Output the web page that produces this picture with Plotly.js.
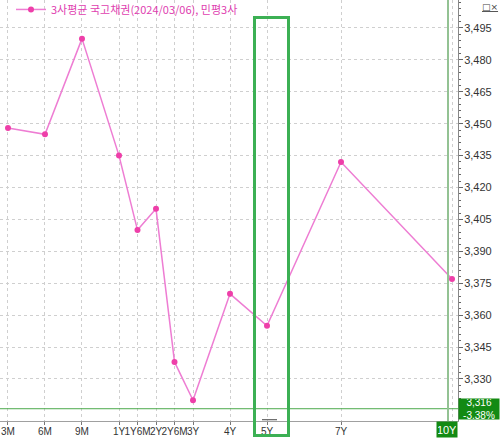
<!DOCTYPE html>
<html>
<head>
<meta charset="utf-8">
<script src="https://cdn.plot.ly/plotly-3.0.1.min.js"></script>
<style>
html,body{margin:0;padding:0;background:#fff;}
#chart{width:500px;height:440px;}
</style>
</head>
<body>
<div id="chart"></div>
<script>
// Tenor categories and their position on the chart's tenor scale
const tenors = ['3M','6M','9M','1Y','1Y6M','2Y','2Y6M','3Y','4Y','5Y','7Y','10Y'];
const tenorScale = [0, 1, 2, 3, 3.5, 4, 4.5, 5, 6, 7, 9, 12];
// Yields (3사평균 국고채권, 2024/03/06)
const yields = [3.448, 3.445, 3.490, 3.435, 3.400, 3.410, 3.338, 3.320, 3.370, 3.355, 3.432, 3.377];
const seriesName = '3사평균 국고채권(2024/03/06), 민평3사';
const lastValue = 3.316;
const lastLabel = '3,316<br>-3,38%';
const yTicks = [3.330, 3.345, 3.360, 3.375, 3.390, 3.405, 3.420, 3.435, 3.450, 3.465, 3.480, 3.495];

// the last tenor's label is shown in the highlighted box instead of the axis
const lastTenor = tenors[tenors.length - 1];
const axisTickText = tenors.map((t, i) => i === tenors.length - 1 ? '' : t);

const narrow = '"Liberation Sans Narrow", "Liberation Sans", Arial, sans-serif';
const tickFont = {family: narrow, size: 11, color: '#333'};

const trace = {
  x: tenorScale,
  y: yields,
  type: 'scatter',
  mode: 'lines+markers',
  name: seriesName,
  line: {color: '#ee7dd3', width: 1.5},
  marker: {color: '#ee3fa9', size: 6},
  hoverinfo: 'skip'
};

const layout = {
  width: 500, height: 440,
  margin: {l: 0, r: 42, t: 0, b: 19, pad: 0, autoexpand: false},
  paper_bgcolor: '#ffffff',
  plot_bgcolor: '#ffffff',
  separators: ', ',
  showlegend: true,
  legend: {
    x: 0.024, y: 1.012, xanchor: 'left', yanchor: 'top',
    bgcolor: 'rgba(0,0,0,0)',
    font: {family: '"Noto Sans CJK KR", sans-serif', size: 11, color: '#e040b0'},
    itemwidth: 30,
    tracegroupgap: 0
  },
  xaxis: {
    range: [-0.216, 12.162],
    tickvals: tenorScale,
    ticktext: axisTickText,
    tickangle: 0,
    showgrid: true,
    gridcolor: '#cfcfcf',
    griddash: 'dot',
    gridwidth: 1,
    zeroline: false,
    showline: true,
    linecolor: '#a0a0a0',
    linewidth: 1,
    ticks: 'outside',
    ticklen: 3,
    tickcolor: '#777',
    tickfont: {family: narrow, size: 10, color: '#333'},
    ticklabelstandoff: -2,
    fixedrange: true
  },
  yaxis: {
    side: 'right',
    range: [3.31023, 3.50816],
    tickvals: yTicks,
    tickformat: '.3f',
    showgrid: true,
    gridcolor: '#cfcfcf',
    griddash: 'dot',
    gridwidth: 1,
    zeroline: false,
    showline: true,
    linecolor: '#888',
    linewidth: 1,
    ticks: 'outside',
    ticklen: 4,
    tickcolor: '#666',
    tickfont: tickFont,
    ticklabelstandoff: -1,
    minor: {dtick: 0.003, tick0: 3.330, ticks: 'outside', ticklen: 2, tickcolor: '#666', showgrid: false},
    fixedrange: true
  },
  shapes: [
    {type: 'line', xref: 'paper', yref: 'y', x0: 0, x1: 1, y0: lastValue, y1: lastValue,
     line: {color: '#4caa4c', width: 1}},
    {type: 'line', xref: 'paper', yref: 'paper', x0: 448/458, x1: 448/458, y0: 0, y1: 1,
     line: {color: '#93c293', width: 2}},
    {type: 'line', xref: 'paper', yref: 'paper', x0: 262/458, x1: 277/458, y0: 0.003, y1: 0.003,
     line: {color: '#444', width: 1}},
    {type: 'rect', xref: 'paper', yref: 'paper',
     x0: 254.5/458, x1: 288.5/458, y0: 1 - 435.5/421, y1: 1 - 17.5/421,
     line: {color: '#3cb054', width: 3}, fillcolor: 'rgba(0,0,0,0)'}
  ],
  annotations: [
    {xref: 'paper', yref: 'y', x: 1, y: lastValue, xanchor: 'left', yanchor: 'middle',
     text: lastLabel, showarrow: false, bgcolor: '#138a13', width: 40, height: 20, borderpad: 0,
     font: {family: narrow, size: 10, color: '#ffffff'}},
    {xref: 'paper', yref: 'paper', x: 446.5/458, y: 0, xanchor: 'center', yanchor: 'top',
     text: lastTenor, showarrow: false, bgcolor: '#138a13', width: 18, height: 13, borderpad: 1,
     font: {family: narrow, size: 11, color: '#ffffff'}},
    {xref: 'paper', yref: 'paper', x: 500/458, y: 1.0, xanchor: 'right', yanchor: 'top',
     text: '<u>□×</u>', showarrow: false,
     font: {family: '"DejaVu Sans", sans-serif', size: 9, color: '#444'}}
  ]
};

Plotly.newPlot('chart', [trace], layout, {displayModeBar: false, staticPlot: true});
</script>
</body>
</html>
